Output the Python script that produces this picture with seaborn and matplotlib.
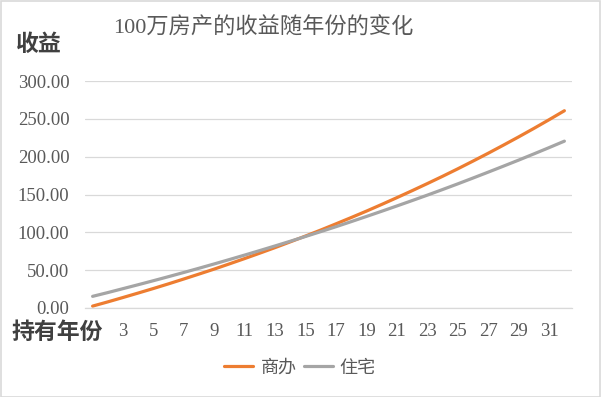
import numpy as np
import pandas as pd
import matplotlib
matplotlib.use("Agg")
import matplotlib.pyplot as plt
import seaborn as sns
from matplotlib.patches import Rectangle
from matplotlib.lines import Line2D

years = list(range(1, 33))
shangban = [2.5, 8.1, 13.9, 19.8, 25.8, 32.0, 38.4, 44.9, 51.5, 58.4, 65.4, 72.6,
            79.9, 87.5, 95.2, 103.1, 111.3, 119.6, 128.1, 136.9, 145.9, 155.1,
            164.5, 174.1, 184.0, 194.2, 204.6, 215.3, 226.2, 237.4, 248.9, 260.7]
zhuzhai = [15.4, 20.4, 25.6, 30.8, 36.1, 41.5, 47.0, 52.6, 58.3, 64.1, 70.0, 76.0,
           82.1, 88.3, 94.6, 101.0, 107.5, 114.2, 121.0, 127.9, 134.9, 142.0,
           149.2, 156.6, 164.1, 171.8, 179.6, 187.5, 195.5, 203.7, 212.0, 220.5]
series_names = ["商办", "住宅"]
series_colors = ["#ED7D31", "#A5A5A5"]
title = "100万房产的收益随年份的变化"
ylabel = "收益"
xlabel = "持有年份"
yticks = [0, 50, 100, 150, 200, 250, 300]
xticks = list(range(3, 32, 2))

df = pd.DataFrame({
    "年份": years * 2,
    "收益": shangban + zhuzhai,
    "类型": [series_names[0]] * len(years) + [series_names[1]] * len(years),
})

sns.set_theme(style="white")
plt.rcParams['font.family'] = ['Liberation Serif', 'Noto Sans CJK SC', 'DejaVu Sans']

W, H = 601, 397
fig = plt.figure(figsize=(W / 100, H / 100), dpi=100)
ax = fig.add_axes([85 / W, 1 - 308 / H, (572 - 85) / W, (308 - 81) / H])

sns.lineplot(data=df, x="年份", y="收益", hue="类型", palette=series_colors,
             linewidth=2.3, ax=ax, legend=False)

ax.set_xlim(0.5, 32.5)
ax.set_ylim(0, 300)
ax.set_yticks(yticks)
ax.set_yticklabels([f"{v:.2f}" for v in yticks])
ax.set_xticks(xticks)
ax.set_xticklabels([str(v) for v in xticks])
ax.tick_params(axis='both', length=0, labelsize=13.5, colors="#595959")
ax.tick_params(axis='y', pad=11.3)
ax.tick_params(axis='x', pad=10.5)
ax.grid(axis='y', color="#D9D9D9", linewidth=0.9)
ax.grid(axis='x', visible=False)
for s in ["top", "right", "left"]:
    ax.spines[s].set_visible(False)
ax.spines["bottom"].set_color("#D9D9D9")
ax.spines["bottom"].set_linewidth(0.9)
ax.set_xlabel("")
ax.set_ylabel("")
ax.set_axisbelow(True)

fig.text(263 / W, 1 - 28 / H, title, ha="center", va="center", fontsize=16,
         color="#595959")
fig.text(16 / W, 1 - 45 / H, ylabel, ha="left", va="center", fontsize=16.5,
         fontweight="bold", color="#404040")
fig.text(11 / W, 1 - 333 / H, xlabel, ha="left", va="center", fontsize=16.5,
         fontweight="bold", color="#404040")

handles = [Line2D([0], [0], color=c, lw=2.3) for c in series_colors]
fig.legend(handles, series_names, loc="center", bbox_to_anchor=(300 / W, 1 - 368 / H),
           ncol=2, frameon=False, fontsize=13, handlelength=1.6, columnspacing=0.4,
           handletextpad=0.4, labelcolor="#595959")

fig.patches.append(Rectangle((0.5 / W, 0.5 / H), 1 - 1.5 / W, 1 - 1.5 / H,
                             transform=fig.transFigure, fill=False,
                             edgecolor="#D9D9D9", linewidth=1.2))

fig.savefig("out.png", dpi=100, facecolor="white")
